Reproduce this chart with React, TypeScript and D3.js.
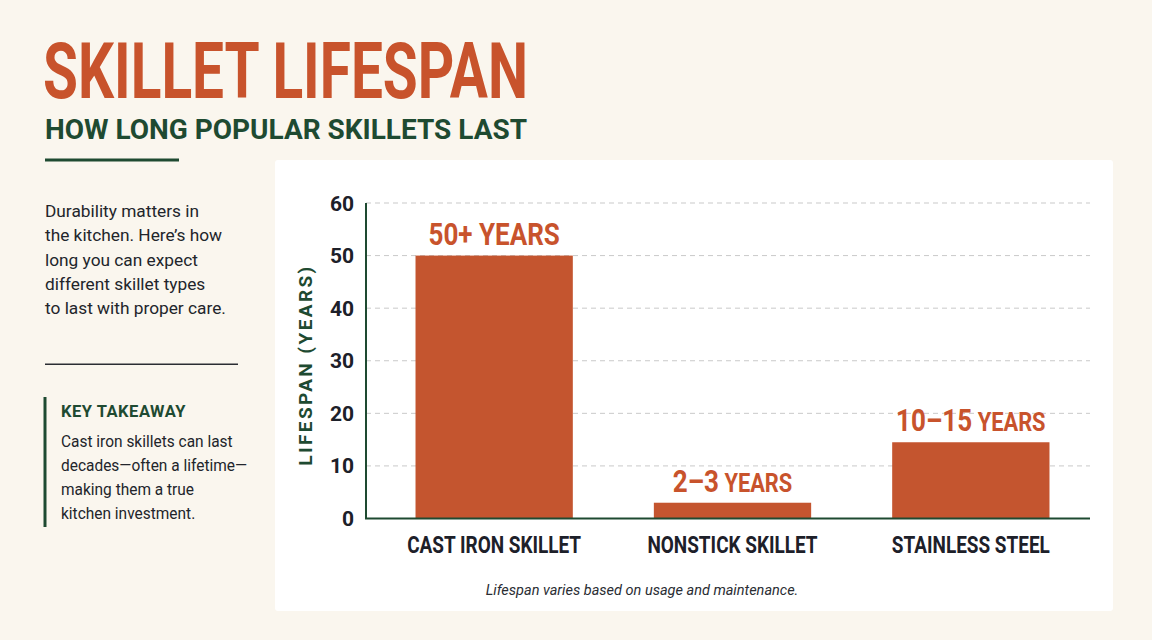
import React from "react";
import * as d3 from "d3";

const categories = ["CAST IRON SKILLET", "NONSTICK SKILLET", "STAINLESS STEEL"];
const lifespans = [50, 3, 14.5];
const valueLabels = ["50+", "2–3", "10–15"];
const valueUnit = "YEARS";
const yTicks = [0, 10, 20, 30, 40, 50, 60];
const introLines = [
  "Durability matters in",
  "the kitchen. Here’s how",
  "long you can expect",
  "different skillet types",
  "to last with proper care.",
];
const takeawayLines = [
  "Cast iron skillets can last",
  "decades—often a lifetime—",
  "making them a true",
  "kitchen investment.",
];

const ORANGE = "#c4552f";
const ORANGE_TXT = "#c8532c";
const GREEN = "#1e4a31";
const DARK = "#1d2029";
const BG = "#faf6ee";
const FONT = "Roboto, 'DejaVu Sans', sans-serif";

export default function App() {
  const W = 1152;
  const H = 640;
  const x = d3
    .scaleBand<string>()
    .domain(categories)
    .range([375, 1090])
    .paddingInner(0.34)
    .paddingOuter(0.17);
  const y = d3.scaleLinear().domain([0, 60]).range([518.5, 203]);
  const axisLeft = 366;
  const axisRight = 1090;
  const cond = 0.84;

  return (
    <svg
      width={W}
      height={H}
      style={{ position: "absolute", left: 0, top: 0, display: "block" }}
      fontFamily={FONT}
    >
      <rect x={0} y={0} width={W} height={H} fill={BG} />

      {/* Title */}
      <text
        x={43}
        y={98}
        fontSize={78}
        fontWeight={700}
        fill={ORANGE_TXT}
        textLength={485}
        lengthAdjust="spacingAndGlyphs"
      >
        SKILLET LIFESPAN
      </text>
      <text
        x={45}
        y={139}
        fontSize={27}
        fontWeight={700}
        fill={GREEN}
        textLength={482}
        lengthAdjust="spacingAndGlyphs"
      >
        HOW LONG POPULAR SKILLETS LAST
      </text>
      <rect x={45} y={158.5} width={134} height={3} fill={GREEN} />

      {/* Intro */}
      {introLines.map((l, i) => (
        <text
          key={l}
          x={45}
          y={216.7 + i * 24.4}
          fontSize={17.3}
          fill="#22252b"
        >
          {l}
        </text>
      ))}
      <rect x={45} y={363.5} width={193} height={1.5} fill="#2a2d33" />

      {/* Key takeaway */}
      <rect x={43.5} y={397} width={3} height={130} fill={GREEN} />
      <text
        x={61}
        y={416.7}
        fontSize={16.5}
        fontWeight={700}
        fill={GREEN}
        letterSpacing={0.5}
      >
        KEY TAKEAWAY
      </text>
      {takeawayLines.map((l, i) => (
        <text
          key={l}
          transform={`translate(61,${446.7 + i * 24}) scale(0.95,1)`}
          fontSize={16.3}
          fill="#22252b"
        >
          {l}
        </text>
      ))}

      {/* Panel */}
      <rect x={275} y={160} width={838} height={451} rx={3} fill="#ffffff" />

      {/* Gridlines */}
      {yTicks
        .filter((t) => t > 0)
        .map((t) => (
          <line
            key={t}
            x1={axisLeft}
            x2={axisRight}
            y1={y(t)}
            y2={y(t)}
            stroke="#c9c9c9"
            strokeWidth={1}
            strokeDasharray="5,4"
          />
        ))}

      {/* Bars */}
      {categories.map((c, i) => (
        <rect
          key={c}
          x={x(c)}
          y={y(lifespans[i])}
          width={x.bandwidth()}
          height={y(0) - y(lifespans[i])}
          fill={ORANGE}
        />
      ))}

      {/* Value labels */}
      {categories.map((c, i) => (
        <text
          key={c}
          transform={`translate(${(x(c) ?? 0) + x.bandwidth() / 2},${y(lifespans[i]) - 11}) scale(${cond},1)`}
          textAnchor="middle"
          fontWeight={700}
          fill={ORANGE_TXT}
        >
          <tspan fontSize={31}>{valueLabels[i]}</tspan>
          <tspan fontSize={i === 0 ? 31 : 26}>{" " + valueUnit}</tspan>
        </text>
      ))}

      {/* Axes */}
      <line x1={axisLeft} x2={axisLeft} y1={y(60)} y2={y(0)} stroke={GREEN} strokeWidth={2} />
      <line x1={axisLeft - 1} x2={axisRight} y1={y(0)} y2={y(0)} stroke={GREEN} strokeWidth={2} />

      {yTicks.map((t) => (
        <text
          key={t}
          x={354}
          y={y(t)}
          dy="0.36em"
          textAnchor="end"
          fontSize={21}
          fontWeight={700}
          fill={DARK}
        >
          {t}
        </text>
      ))}

      {categories.map((c) => (
        <text
          key={c}
          transform={`translate(${(x(c) ?? 0) + x.bandwidth() / 2},553) scale(0.79,1)`}
          textAnchor="middle"
          fontSize={24}
          fontWeight={700}
          fill={DARK}
        >
          {c}
        </text>
      ))}

      <text
        transform={`translate(305,365) rotate(-90)`}
        textAnchor="middle"
        dy="0.36em"
        fontSize={19}
        fontWeight={700}
        fill={GREEN}
        letterSpacing={2.4}
      >
        LIFESPAN (YEARS)
      </text>

      <text
        x={642}
        y={595}
        textAnchor="middle"
        fontSize={14.5}
        fontStyle="italic"
        fill="#2a2d33"
      >
        Lifespan varies based on usage and maintenance.
      </text>
    </svg>
  );
}
